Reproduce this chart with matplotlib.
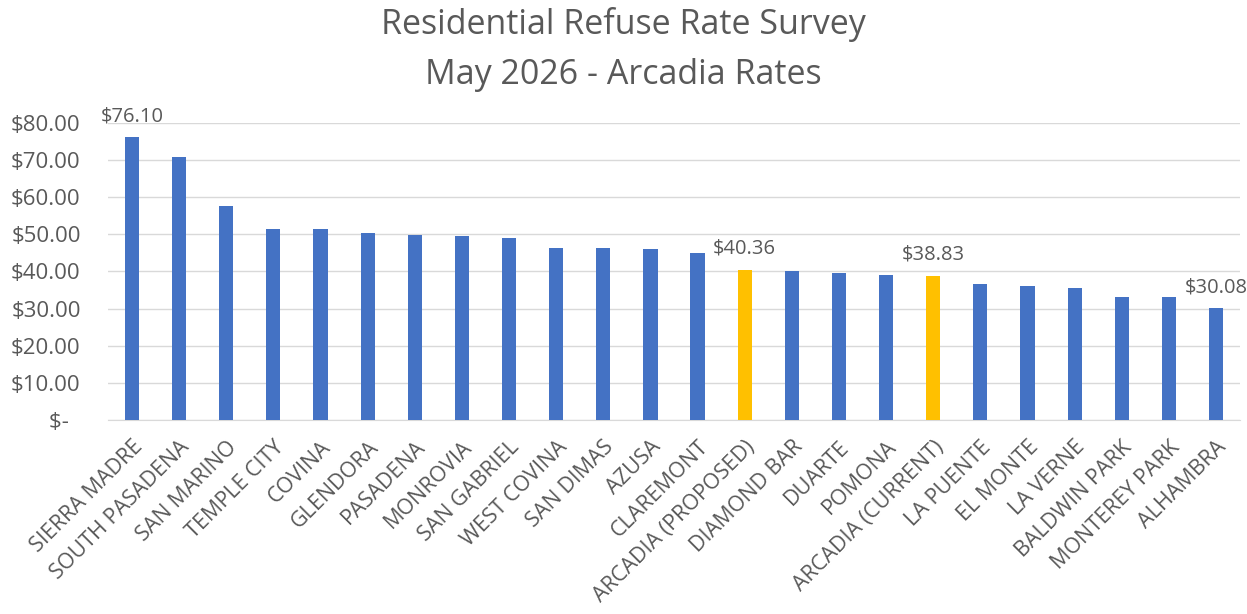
import matplotlib.pyplot as plt

# City names and monthly residential refuse rates ($)
cities = ['SIERRA MADRE', 'SOUTH PASADENA', 'SAN MARINO', 'TEMPLE CITY', 'COVINA',
          'GLENDORA', 'PASADENA', 'MONROVIA', 'SAN GABRIEL', 'WEST COVINA',
          'SAN DIMAS', 'AZUSA', 'CLAREMONT', 'ARCADIA (PROPOSED)', 'DIAMOND BAR',
          'DUARTE', 'POMONA', 'ARCADIA (CURRENT)', 'LA PUENTE', 'EL MONTE',
          'LA VERNE', 'BALDWIN PARK', 'MONTEREY PARK', 'ALHAMBRA']
rates = [76.10, 70.90, 57.60, 51.50, 51.30, 50.20, 49.90, 49.50, 48.90, 46.40,
         46.20, 46.00, 45.00, 40.36, 40.10, 39.70, 38.90, 38.83, 36.70, 36.00,
         35.60, 33.20, 33.00, 30.08]
labeled = ['SIERRA MADRE', 'ARCADIA (PROPOSED)', 'ARCADIA (CURRENT)', 'ALHAMBRA']
yticks = [0, 10, 20, 30, 40, 50, 60, 70, 80]

plt.rcParams['font.family'] = ['Open Sans', 'DejaVu Sans']
text_color = '#595959'

fig = plt.figure(figsize=(12.47, 6.14), dpi=100)
ax = fig.add_axes([0.087, 0.316, 0.907, 0.484])

colors = ['#FFC000' if 'ARCADIA' in c else '#4472C4' for c in cities]
x = range(len(cities))
ax.bar(x, rates, width=0.3, color=colors, zorder=3)

# Data labels
for i, (c, v) in enumerate(zip(cities, rates)):
    if c in labeled:
        ax.annotate(f'${v:.2f}', (i, v), xytext=(0, 8), textcoords='offset points',
                    ha='center', va='bottom', fontsize=14.5, color=text_color)

ax.set_xlim(-0.5, len(cities) - 0.5)
ax.set_ylim(0, 80)
ax.set_yticks(yticks)
ax.set_yticklabels(['$-  ' if t == 0 else f'${t:.2f}' for t in yticks],
                   fontsize=16, color=text_color)
ax.set_xticks(list(x))
ax.set_xticklabels(cities, rotation=45, ha='right', rotation_mode='anchor',
                   fontsize=15.5, color=text_color)
ax.tick_params(axis='y', length=0, pad=20)
ax.tick_params(axis='x', length=0, pad=12)

ax.grid(axis='y', color='#D9D9D9', linewidth=1, zorder=0)
for s in ['top', 'right', 'left']:
    ax.spines[s].set_visible(False)
ax.spines['bottom'].set_color('#D9D9D9')

fig.suptitle('Residential Refuse Rate Survey\nMay 2026 - Arcadia Rates',
             x=0.5, y=0.988, fontsize=24.5, color=text_color, linespacing=1.6)

fig.savefig('out.png', dpi=100, facecolor='white')
